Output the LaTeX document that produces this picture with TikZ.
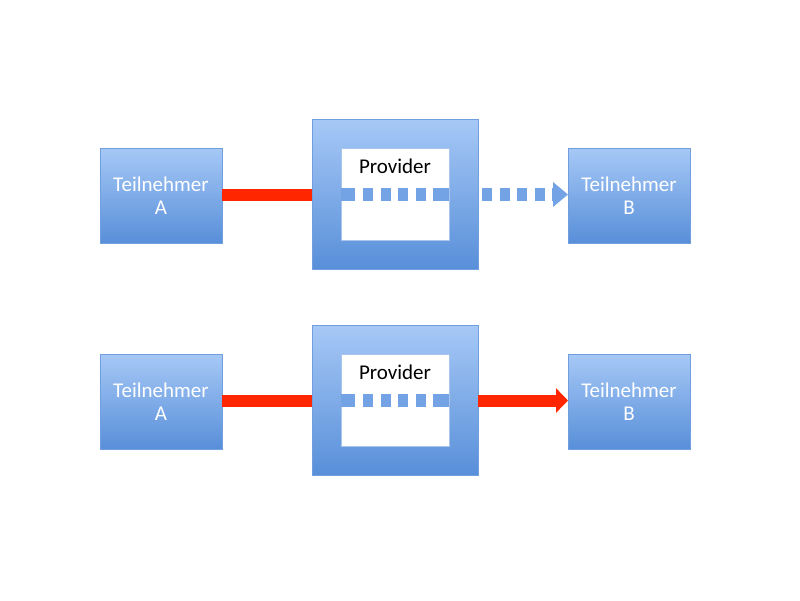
\documentclass[tikz,border=0pt]{standalone}
\usepackage{fontspec}
\setmainfont{Carlito}
\usepackage{tikz}
\usetikzlibrary{arrows.meta,positioning}

\definecolor{boxtop}{RGB}{166,200,246}
\definecolor{boxbot}{RGB}{88,143,217}
\definecolor{boxline}{RGB}{112,158,222}
\definecolor{arrowred}{RGB}{255,38,0}
\definecolor{dashblue}{RGB}{116,163,229}

\tikzset{
  box/.style={draw=boxline,line width=0.6pt,top color=boxtop,bottom color=boxbot,
    minimum width=122pt,minimum height=95pt,outer sep=0pt,align=center,
    text=white,font=\fontsize{21}{23}\selectfont},
  win/.style={draw=boxline!60,line width=0.4pt,fill=white,minimum width=108pt,
    minimum height=92pt,outer sep=0pt},
  redline/.style={draw=arrowred,line width=12pt},
  blueline/.style={draw=dashblue,line width=13pt},
}

\begin{document}
\begin{tikzpicture}[x=1pt,y=-1pt]
  \useasboundingbox (0,0) rectangle (800,600);
  \foreach \r/\y in {1/194.5,2/400.5}{
    \node[box] (a\r) at (161,\y+1) {Teilnehmer\\A};
    \node[box,minimum width=166pt,minimum height=150pt] (p\r) at (395,\y) {};
    \node[win] (w\r) at (395,\y) {};
    \node[font=\fontsize{21}{23}\selectfont] (t\r) [below=7pt of w\r.north] {Provider};
    \node[box] (b\r) at (629,\y+1) {Teilnehmer\\B};
    \draw[redline] (a\r.east |- 0,\y) -- (p\r);
    \draw[blueline,dash pattern=on 14pt off 8pt on 10pt off 8pt on 10pt off 7pt on 10pt off 8pt on 10pt off 7pt on 16pt off 10pt]
      (w\r.west) -- (w\r.east);}
  % upper row: dashed, lower row: direct
  \draw[blueline,dash pattern=on 10pt off 7.5pt,dash phase=13.5pt,
    -{Triangle[length=15pt,width=24pt]}] (p1) -- (b1.west |- p1);
  \draw[redline,-{Triangle[length=12pt,width=24pt]}] (p2) -- (b2.west |- p2);
\end{tikzpicture}
\end{document}
